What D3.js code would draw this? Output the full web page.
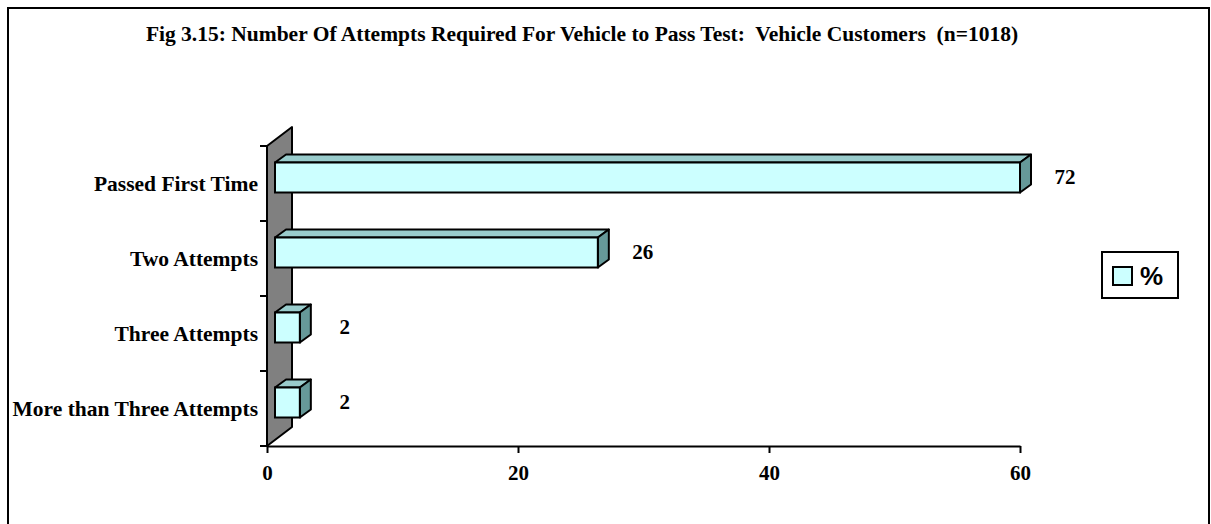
<!DOCTYPE html>
<html>
<head>
<meta charset="utf-8">
<script src="https://cdn.jsdelivr.net/npm/d3@7"></script>
<style>
  html, body { margin: 0; padding: 0; background: #ffffff; }
  svg { display: block; }
  .serif { font-family: "Liberation Serif", "Times New Roman", serif; font-weight: bold; fill: #000; }
</style>
</head>
<body>
<svg id="chart" width="1211" height="524"></svg>
<script>
// Data
const title = "Fig 3.15: Number Of Attempts Required For Vehicle to Pass Test:  Vehicle Customers  (n=1018)";
const categories = ["Passed First Time", "Two Attempts", "Three Attempts", "More than Three Attempts"];
const values = [72, 26, 2, 2];
const xTicks = [0, 20, 40, 60];
const seriesName = "%";

const svg = d3.select("#chart");

// Outer chart frame
svg.append("rect")
  .attr("x", 8).attr("y", 8).attr("width", 1201).attr("height", 530)
  .attr("fill", "#fff").attr("stroke", "#000").attr("stroke-width", 2);

// Title (double spaces kept)
svg.append("text").attr("class", "serif")
  .attr("x", 582).attr("y", 41)
  .attr("text-anchor", "middle")
  .attr("font-size", 21.5)
  .style("white-space", "pre")
  .text(title);

// Scales
const x = d3.scaleLinear().domain([0, 60]).range([267, 1020]);
const y = d3.scaleBand().domain(categories).range([146, 446]).padding(0);

// Oblique 3D offsets: wall depth, bar front plane, bar depth
const wall = { dx: 25, dy: -19 };
const front = { dx: 8, dy: -6 };
const depth = { dx: 11, dy: -8 };

// Bars are drawn in their own plane and clipped at the axis maximum
const xb = d3.scaleLinear().domain([0, 60]).range([x(0) + front.dx, x(60)]).clamp(true);
const barH = y.bandwidth() * 0.4;

// Side wall
const y0 = y.range()[0], y1 = y.range()[1];
svg.append("path")
  .attr("d", d3.line()([
    [x(0), y0], [x(0) + wall.dx, y0 + wall.dy],
    [x(0) + wall.dx, y1 + wall.dy], [x(0), y1]
  ]) + "Z")
  .attr("fill", "#808080").attr("stroke", "#000").attr("stroke-width", 2)
  .attr("stroke-linejoin", "round");

// Category axis ticks
const edges = categories.map(c => y(c)).concat([y1]);
svg.append("g").selectAll("line").data(edges).join("line")
  .attr("x1", x(0) - 7).attr("x2", x(0))
  .attr("y1", d => d).attr("y2", d => d)
  .attr("stroke", "#000").attr("stroke-width", 2);

// Category labels
svg.append("g").selectAll("text").data(categories).join("text")
  .attr("class", "serif")
  .attr("x", 258)
  .attr("y", d => y(d) + y.bandwidth() / 2)
  .attr("dy", "0.33em")
  .attr("text-anchor", "end")
  .attr("font-size", 21.5)
  .text(d => d);

// Value axis
const xAxis = svg.append("g").attr("transform", `translate(0,${y1})`)
  .call(d3.axisBottom(x).tickValues(xTicks).tickSize(7).tickSizeOuter(0).tickPadding(12));
xAxis.select(".domain").attr("stroke", "#000").attr("stroke-width", 2);
xAxis.selectAll(".tick line").attr("stroke", "#000").attr("stroke-width", 2);
xAxis.selectAll(".tick text")
  .attr("class", "serif")
  .attr("font-size", 21)
  .attr("font-family", null);

// Wall front edge
svg.append("line")
  .attr("x1", x(0)).attr("x2", x(0)).attr("y1", y0).attr("y2", y1)
  .attr("stroke", "#000").attr("stroke-width", 2);

// 3D bars
const bars = svg.append("g").selectAll("g").data(categories.map((c, i) => ({ c, v: values[i] }))).join("g");
const bx0 = d => xb(0);
const bx1 = d => xb(d.v);
const by0 = d => y(d.c) + (y.bandwidth() - barH) / 2 + front.dy;
const by1 = d => by0(d) + barH;

bars.append("path") // top face
  .attr("d", d => d3.line()([
    [bx0(d), by0(d)], [bx0(d) + depth.dx, by0(d) + depth.dy],
    [bx1(d) + depth.dx, by0(d) + depth.dy], [bx1(d), by0(d)]
  ]) + "Z")
  .attr("fill", "#99CCCC").attr("stroke", "#000").attr("stroke-width", 2).attr("stroke-linejoin", "round");

bars.append("path") // side face
  .attr("d", d => d3.line()([
    [bx1(d), by0(d)], [bx1(d) + depth.dx, by0(d) + depth.dy],
    [bx1(d) + depth.dx, by1(d) + depth.dy], [bx1(d), by1(d)]
  ]) + "Z")
  .attr("fill", "#669999").attr("stroke", "#000").attr("stroke-width", 2).attr("stroke-linejoin", "round");

bars.append("rect") // front face
  .attr("x", bx0).attr("y", by0)
  .attr("width", d => bx1(d) - bx0(d)).attr("height", barH)
  .attr("fill", "#CCFFFF").attr("stroke", "#000").attr("stroke-width", 2);

// Value labels
bars.append("text").attr("class", "serif")
  .attr("x", d => bx1(d) + 45)
  .attr("y", d => (by0(d) + by1(d)) / 2)
  .attr("dy", "0.33em")
  .attr("text-anchor", "middle")
  .attr("font-size", 21)
  .text(d => d.v);

// Legend
const lg = svg.append("g");
lg.append("rect").attr("x", 1102).attr("y", 252).attr("width", 76).attr("height", 46)
  .attr("fill", "#fff").attr("stroke", "#000").attr("stroke-width", 2);
lg.append("rect").attr("x", 1113).attr("y", 267).attr("width", 19).attr("height", 18)
  .attr("fill", "#CCFFFF").attr("stroke", "#000").attr("stroke-width", 2);
lg.append("text")
  .attr("x", 1140).attr("y", 276).attr("dy", "0.36em")
  .attr("font-family", "'Liberation Sans', Arial, sans-serif")
  .attr("font-weight", "bold").attr("font-size", 26)
  .text(seriesName);
</script>
</body>
</html>
